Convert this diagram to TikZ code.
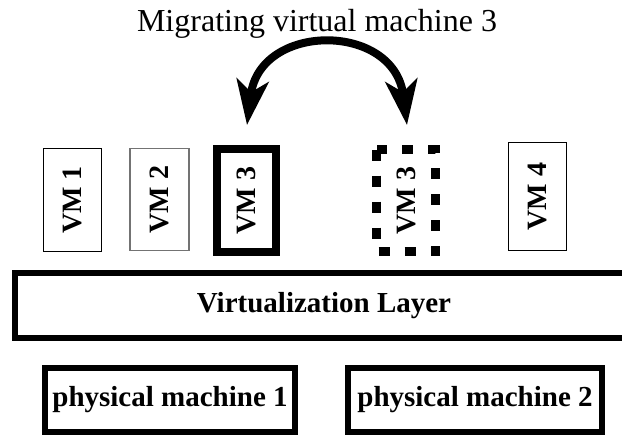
\documentclass[tikz,border=0pt]{standalone}
\usepackage{fontspec}
\setmainfont{Liberation Serif}
\usetikzlibrary{arrows.meta}
\tikzset{
  vmbox/.style={draw, rotate=90, inner sep=0pt, font=\fontsize{28}{32}\selectfont\bfseries},
  thickbox/.style={draw, line width=6pt, inner sep=0pt, font=\fontsize{29}{34}\selectfont\bfseries},
  labeltext/.style={inner sep=0pt, font=\fontsize{29}{34}\selectfont\bfseries},
  migarrow/.style={line width=8pt, {Stealth[length=45pt,width=32pt,inset=12pt]}-{Stealth[length=45pt,width=32pt,inset=12pt]}}
}
\begin{document}
\begin{tikzpicture}[x=1pt,y=-1pt]
\clip (0,0) rectangle (622,436);
\useasboundingbox (0,0) rectangle (622,436);
\fill[white] (0,0) rectangle (622,436);
% title
\node[anchor=base, inner sep=0pt, font=\fontsize{32}{38}\selectfont] (title) at (317,32) {Migrating virtual machine 3};
% virtual machines
\node[vmbox, line width=1.2pt, minimum width=103pt, minimum height=58pt] (vm1) at (72.5,200) {VM 1};
\node[vmbox, line width=1.5pt, draw=black!55, minimum width=102pt, minimum height=59pt] (vm2) at (159.5,199.5) {VM 2};
\node[vmbox, line width=8.5pt, minimum width=103pt, minimum height=59pt] (vm3) at (246.5,200.5) {VM 3};
\node[vmbox, line width=9pt, dash pattern=on 11pt off 15pt, minimum width=102pt, minimum height=59pt] (vm3n) at (406,200.5) {VM 3};
\node[vmbox, line width=1.2pt, minimum width=108pt, minimum height=58pt] (vm4) at (537.5,196.5) {VM 4};
% migration arrow
\coordinate (a1) at (247,125);
\coordinate (a2) at (407,125);
\coordinate (c1) at (260,22);
\coordinate (c2) at (394,22);
\draw[migarrow] (a1) .. controls (c1) and (c2) .. (a2);
% virtualization layer
\node[thickbox, minimum width=618pt, minimum height=65pt] (vl) at (324,305.5) {};
\node[labeltext] (vltext) at (324,305.5) {Virtualization Layer};
% physical machines
\node[thickbox, minimum width=250pt, minimum height=64pt] (pm1) at (170,400) {physical machine 1};
\node[thickbox, minimum width=254pt, minimum height=64pt] (pm2) at (475,400) {physical machine 2};
\end{tikzpicture}
\end{document}
